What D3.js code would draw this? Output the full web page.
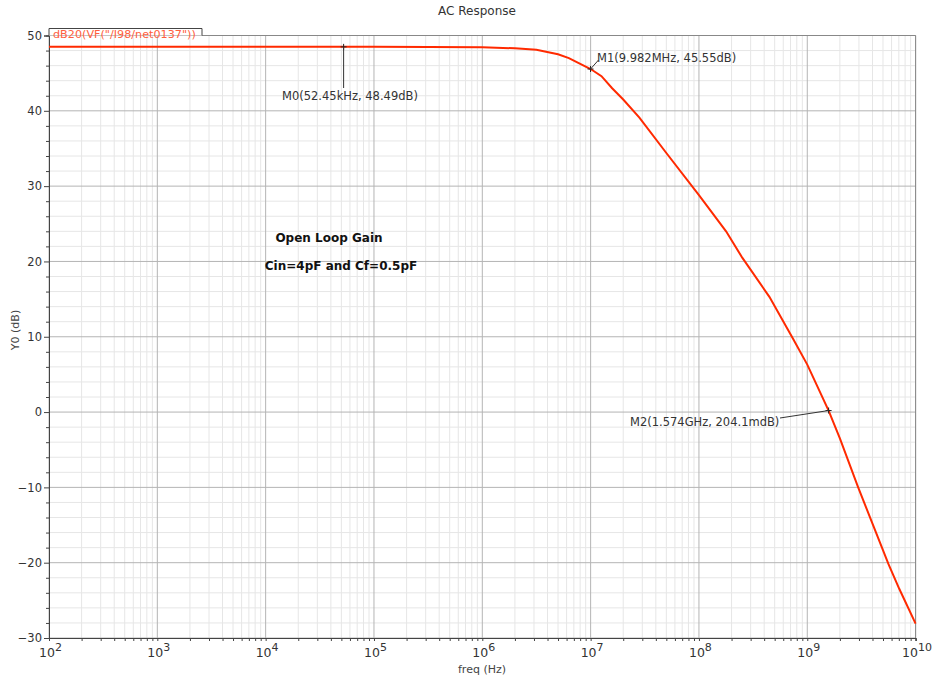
<!DOCTYPE html>
<html><head><meta charset="utf-8">
<script src="https://cdn.jsdelivr.net/npm/d3@7"></script>
<style>
html,body{margin:0;padding:0;background:#fff;}
svg{display:block;font-family:"DejaVu Sans",sans-serif;}
</style></head>
<body>
<svg id="chart" width="934" height="677"></svg>
<script>
// ---- data ----
const freqHz = [1e2, 1e3, 1e4, 1e5, 1e6, 2e6, 3.16e6, 5e6, 6.3e6, 1e7, 1.26e7, 1.58e7, 2e7, 2.82e7, 5e7, 1e8, 1.78e8, 2.51e8, 4.47e8, 7.41e8, 1e9, 1.574e9, 2e9, 2.95e9, 5.62e9, 7.08e9, 1e10];
const gainDb = [48.49, 48.49, 48.49, 48.49, 48.43, 48.3, 48.1, 47.5, 47.0, 45.55, 44.6, 43.0, 41.5, 39.1, 34.4, 28.8, 24.0, 20.5, 15.3, 9.7, 6.3, 0.204, -3.5, -10.0, -20.2, -23.5, -28.1];
const yTicks = [-30, -20, -10, 0, 10, 20, 30, 40, 50];
const xDecades = [2, 3, 4, 5, 6, 7, 8, 9, 10];
const markers = [
  {name: "M0", f: 52.45e3, v: 48.49, label: "M0(52.45kHz, 48.49dB)"},
  {name: "M1", f: 9.982e6, v: 45.55, label: "M1(9.982MHz, 45.55dB)"},
  {name: "M2", f: 1.574e9, v: 0.2041, label: "M2(1.574GHz, 204.1mdB)"}
];
const title = "AC Response";
const legendLabel = 'dB20(VF("/I98/net0137"))';
const notes = ["Open Loop Gain", "Cin=4pF and Cf=0.5pF"];

// ---- layout ----
const svg = d3.select("#chart");
const L = 49, R = 915.6, T = 35.5, B = 638;
const x = d3.scaleLog().domain([1e2, 1e10]).range([L, R]);
const y = d3.scaleLinear().domain([-30, 50]).range([B, T]);

// minor grid
const minorX = [];
for (let d = 2; d < 10; d++) for (let k = 2; k <= 9; k++) minorX.push(k * Math.pow(10, d));
const minorY = d3.range(-30, 51, 2).filter(v => v % 10 !== 0);
const grid = svg.append("g");
grid.selectAll(".mx").data(minorX).join("line")
  .attr("x1", d => x(d)).attr("x2", d => x(d)).attr("y1", T).attr("y2", B)
  .attr("stroke", "#e6e6e6").attr("stroke-width", 1);
grid.selectAll(".my").data(minorY).join("line")
  .attr("x1", L).attr("x2", R).attr("y1", d => y(d)).attr("y2", d => y(d))
  .attr("stroke", "#e6e6e6").attr("stroke-width", 1);
grid.selectAll(".Mx").data(xDecades).join("line")
  .attr("x1", d => x(Math.pow(10, d))).attr("x2", d => x(Math.pow(10, d))).attr("y1", T).attr("y2", B)
  .attr("stroke", "#b4b4b4").attr("stroke-width", 1);
grid.selectAll(".My").data(yTicks).join("line")
  .attr("x1", L).attr("x2", R).attr("y1", d => y(d)).attr("y2", d => y(d))
  .attr("stroke", "#b4b4b4").attr("stroke-width", 1);

// frame top/right
svg.append("line").attr("x1", L).attr("x2", R).attr("y1", T).attr("y2", T).attr("stroke", "#888");
svg.append("line").attr("x1", R).attr("x2", R).attr("y1", T).attr("y2", B).attr("stroke", "#888");

// axes
const yAxisMinor = d3.axisLeft(y).tickValues(minorY).tickSize(3).tickFormat("");
const yAxis = d3.axisLeft(y).tickValues(yTicks).tickSize(5).tickPadding(2)
  .tickFormat(d => d < 0 ? "\u2212" + Math.abs(d) : d);
const gy2 = svg.append("g").attr("transform", `translate(${L},0)`).call(yAxisMinor);
const gy = svg.append("g").attr("transform", `translate(${L},0)`).call(yAxis);
[gy, gy2].forEach(g => {
  g.select(".domain").attr("stroke", "#444");
  g.selectAll(".tick line").attr("stroke", "#444");
  g.selectAll("text").attr("fill", "#333").style("font-size", "11.5px").style("font-family", "DejaVu Sans, sans-serif");
});

const xAxisMinor = d3.axisBottom(x).tickValues(minorX).tickSize(3).tickFormat("");
const xAxis = d3.axisBottom(x).tickValues(xDecades.map(d => Math.pow(10, d))).tickSize(3).tickFormat("");
const gx2 = svg.append("g").attr("transform", `translate(0,${B})`).call(xAxisMinor);
const gx = svg.append("g").attr("transform", `translate(0,${B})`).call(xAxis);
[gx, gx2].forEach(g => {
  g.select(".domain").attr("stroke", "#444");
  g.selectAll(".tick line").attr("stroke", "#444");
});
// decade labels with superscripts
const xl = svg.append("g").style("font-size", "12.5px").attr("fill", "#333");
xDecades.forEach(d => {
  const px = x(Math.pow(10, d));
  const t = xl.append("text").attr("y", 656.5);
  if (d === 10) t.attr("x", 932).attr("text-anchor", "end");
  else t.attr("x", px - 10);
  t.append("tspan").text("10");
  t.append("tspan").attr("dy", -6).style("font-size", "11px").text(d);
});

// axis titles
svg.append("text").attr("x", 482).attr("y", 673).attr("text-anchor", "middle")
  .style("font-size", "11px").attr("fill", "#444").text("freq (Hz)");
svg.append("text").attr("transform", "translate(19,330) rotate(-90)").attr("text-anchor", "middle")
  .style("font-size", "11px").attr("fill", "#444").text("Y0 (dB)");
svg.append("text").attr("x", 477).attr("y", 15).attr("text-anchor", "middle")
  .style("font-size", "12px").attr("fill", "#333").text(title);

// curve
const pts = freqHz.map((f, i) => [f, gainDb[i]]);
svg.append("path").datum(pts)
  .attr("d", d3.line().x(d => x(d[0])).y(d => y(d[1])))
  .attr("fill", "none").attr("stroke", "#ff2a00").attr("stroke-width", 2);

// legend tab
svg.append("path")
  .attr("d", `M${L},${T} L${L},28.5 L202,28.5 L202,${T}`)
  .attr("fill", "#fff").attr("stroke", "#444").attr("stroke-width", 1);
svg.append("text").attr("x", 53).attr("y", 37.5)
  .style("font-size", "11.2px").attr("fill", "#ff6040").text(legendLabel);

// markers
const mk = svg.append("g");
const labelPos = {
  M0: {lx: 282, ly: 100},
  M1: {lx: 597, ly: 61.5},
  M2: {lx: 630, ly: 425.5}
};
markers.forEach(m => {
  const px = x(m.f), py = y(m.v);
  mk.append("path").attr("d", `M${px - 3},${py} H${px + 3} M${px},${py - 3} V${py + 3}`)
    .attr("stroke", "#222").attr("stroke-width", 1);
  const p = labelPos[m.name];
  if (m.name === "M0") {
    mk.append("line").attr("x1", px).attr("x2", px).attr("y1", py).attr("y2", 88).attr("stroke", "#333");
  } else if (m.name === "M1") {
    mk.append("line").attr("x1", px).attr("y1", py).attr("x2", px + 8).attr("y2", py - 9).attr("stroke", "#333");
  } else {
    mk.append("line").attr("x1", px).attr("y1", py).attr("x2", 780).attr("y2", 418).attr("stroke", "#333");
  }
  mk.append("text").attr("x", p.lx).attr("y", p.ly).style("font-size", "11.5px").attr("fill", "#333").text(m.label);
});

// notes
svg.append("text").attr("x", 329).attr("y", 242).attr("text-anchor", "middle")
  .style("font-size", "12px").style("font-weight", "bold").attr("fill", "#111").text(notes[0]);
svg.append("text").attr("x", 341).attr("y", 270).attr("text-anchor", "middle")
  .style("font-size", "12px").style("font-weight", "bold").attr("fill", "#111").text(notes[1]);
</script>
</body></html>
